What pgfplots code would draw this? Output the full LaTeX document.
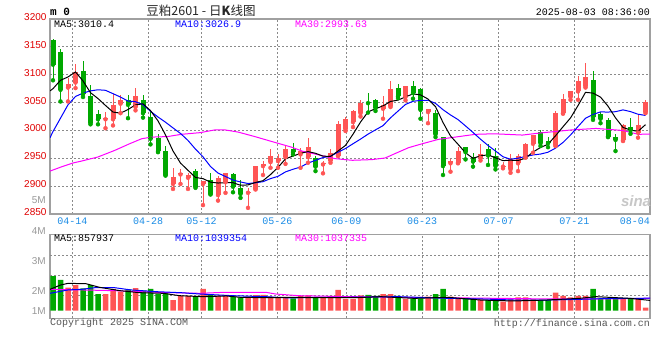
\documentclass[border=0pt]{standalone}
\usepackage{pgfplots}
\pgfplotsset{compat=1.18}
\usepackage{pgfplotstable}
\usepackage{fontspec}
\setmainfont{Liberation Sans}
\newfontfamily\mono{Liberation Mono}
\newfontfamily\cjk{Noto Sans CJK SC}
\definecolor{cR}{HTML}{FF5555}
\definecolor{cG}{HTML}{00A800}
\definecolor{frameC}{HTML}{A0A0A0}
\definecolor{gridC}{HTML}{8A8A8A}
\definecolor{tickR}{HTML}{E00000}
\definecolor{dateB}{HTML}{1A8CE6}
\definecolor{volL}{HTML}{999999}
\definecolor{maB}{HTML}{0000FF}
\definecolor{maM}{HTML}{FF00FF}
\definecolor{footC}{HTML}{555555}

% red (rising) candles: index, open, high, low, close, volume (M)
\pgfplotstableread{
i o h l c v
2 3077 3094 3052 3083 1.92
3 3086 3120 3076 3105 2.14
7 3020 3033 3004 3022 1.39
8 3020 3065 3009 3046 1.81
9 3048 3064 3031 3055 1.58
11 3042 3077 3036 3061 1.89
16 2904 2933 2895 2917 0.89
17 2921 2930 2904 2923 1.23
18 2915 2924 2895 2920 1.23
20 2904 2910 2866 2909 1.81
22 2884 2918 2874 2914 1.23
23 2907 2924 2888 2923 1.23
26 2888 2896 2861 2890 1.18
27 2895 2937 2894 2936 1.29
28 2936 2945 2920 2939 1.31
29 2943 2966 2933 2954 1.18
30 2945 2958 2933 2950 1.14
31 2952 2974 2940 2966 1.12
33 2957 2968 2933 2963 1.23
34 2952 2986 2942 2970 1.27
36 2939 2946 2923 2941 1.08
37 2946 2967 2942 2959 1.23
38 2955 3017 2954 3011 1.73
39 3002 3025 2999 3021 0.98
40 3015 3037 3006 3035 0.98
41 3031 3055 3025 3049 1.28
44 3039 3061 3021 3046 1.39
45 3044 3088 3042 3075 1.39
47 3060 3080 3054 3079 0.98
50 3033 3039 3013 3038 1.17
53 2941 2948 2926 2946 1.17
54 2942 2970 2941 2963 1.03
57 2951 2976 2946 2958 0.95
60 2935 2944 2932 2937 0.75
61 2930 2958 2924 2948 0.95
62 2941 2958 2927 2955 1.12
63 2952 2977 2951 2976 1.12
64 2976 2992 2960 2991 0.95
67 2973 3035 2972 3031 1.50
68 3031 3066 3030 3057 1.23
69 3060 3071 3055 3070 1.12
70 3070 3098 3055 3088 1.23
71 3079 3121 3077 3096 1.23
76 2982 3011 2981 3010 1.03
78 2996 3027 2987 3010 1.03
79 3033 3055 3031 3051 0.25
}\redtab

% green (falling) candles
\pgfplotstableread{
i o h l c v
0 3162 3164 3090 3118 2.89
1 3141 3147 3052 3073 2.56
4 3107 3125 3060 3065 1.87
5 3061 3082 3011 3013 2.14
6 3029 3037 3011 3020 1.39
10 3054 3064 3022 3046 1.78
12 3055 3063 3023 3031 1.67
13 3025 3035 2975 2985 1.81
14 2986 2993 2961 2963 1.39
15 2963 2972 2919 2920 1.45
19 2927 2930 2897 2899 1.14
21 2911 2924 2885 2886 1.39
24 2921 2923 2889 2899 1.18
25 2897 2911 2879 2886 1.12
32 2966 2978 2957 2961 1.02
35 2950 2954 2927 2935 1.12
42 3051 3067 3032 3049 1.31
43 3055 3057 3035 3040 1.23
46 3077 3083 3058 3061 1.23
48 3079 3088 3057 3067 1.03
49 3075 3076 3021 3037 1.03
51 3032 3036 2988 2993 1.39
52 2988 2989 2920 2936 1.81
55 2970 2970 2948 2961 1.03
56 2952 2960 2935 2944 1.03
58 2967 2976 2938 2955 0.89
59 2955 2969 2930 2936 0.89
65 2997 3000 2972 2977 0.89
66 2981 2989 2970 2977 0.89
72 3091 3107 3019 3024 1.81
73 3030 3033 3013 3021 1.03
74 3019 3023 2988 2989 1.03
75 2989 2993 2963 2983 1.03
77 3007 3022 2994 3000 1.03
}\greentab

\pgfplotsset{
  sinabase/.style={
    scale only axis, width=600pt, xmin=-0.4, xmax=79.6,
    axis line style={draw=frameC, line width=1.2pt},
    major tick length=0pt,
    xtick={2.6,12.7,19.8,29.9,39.1,49.2,59.4,69.5},
    xmajorgrids,
    x grid style={draw=gridC, line width=1pt, dash pattern=on 2pt off 2pt},
  },
  hgrid/.style={draw=gridC, line width=1pt, dash pattern=on 2pt off 2pt, mark=none, forget plot},
}

\begin{document}
\begin{tikzpicture}
\path[use as bounding box, fill=white] (0pt,0pt) rectangle (660pt,360pt);

% ---------------- price panel ----------------
\begin{axis}[sinabase,
  at={(50pt,146pt)}, anchor=south west, height=195pt,
  ymin=2850, ymax=3200,
  ytick={2850,2900,2950,3000,3050,3100,3150,3200},
  yticklabels={2850,2900,2950,3000,3050,3100,3150,3200},
  yticklabel style={font=\fontsize{10}{12}\selectfont, text=tickR, yshift=2pt},
  xticklabels={04-14,04-28,05-12,05-26,06-09,06-23,07-07,07-21},
  xticklabel style={font=\mono\fontsize{10}{12}\selectfont, text=dateB},
]
% horizontal dotted grid
\addplot[hgrid] coordinates {(-0.4,2900) (79.6,2900)};
\addplot[hgrid] coordinates {(-0.4,2950) (79.6,2950)};
\addplot[hgrid] coordinates {(-0.4,3000) (79.6,3000)};
\addplot[hgrid] coordinates {(-0.4,3050) (79.6,3050)};
\addplot[hgrid] coordinates {(-0.4,3100) (79.6,3100)};
\addplot[hgrid] coordinates {(-0.4,3150) (79.6,3150)};
% wicks
\addplot[only marks, mark=none, color=cR, error bars/.cd, y dir=plus, y explicit, error mark=none,
  error bar style={line width=1pt, color=cR}]
  table[x=i, y=l, y error expr=\thisrow{h}-\thisrow{l}] {\redtab};
\addplot[only marks, mark=none, color=cG, error bars/.cd, y dir=plus, y explicit, error mark=none,
  error bar style={line width=1pt, color=cG}]
  table[x=i, y=l, y error expr=\thisrow{h}-\thisrow{l}] {\greentab};
% bodies
\addplot[only marks, mark=none, color=cR, error bars/.cd, y dir=plus, y explicit, error mark=none,
  error bar style={line width=5pt, color=cR}]
  table[x=i, y=o, y error expr=\thisrow{c}-\thisrow{o}] {\redtab};
\addplot[only marks, mark=none, color=cG, error bars/.cd, y dir=plus, y explicit, error mark=none,
  error bar style={line width=5pt, color=cG}]
  table[x=i, y=c, y error expr=\thisrow{o}-\thisrow{c}] {\greentab};

% MA30
\addplot[maM, line width=1pt, mark=none] coordinates {
(-0.4,2927) (1.1,2934.5) (2.7,2941.7) (3.8,2945) (6,2952.4) (8.2,2964) (10.2,2976)
(11.8,2985) (13.1,2988) (15.3,2989) (17.1,2993) (19.6,2996) (21.6,3001) (22.9,3001)
(24.7,2997) (26.9,2989) (29.2,2980) (31.8,2970) (33.2,2963) (35.8,2955) (37.6,2949.4)
(39.9,2946.4) (42.5,2947.6) (44.3,2950.6) (45.6,2958.4) (47.4,2969) (49.2,2976)
(51.4,2984) (53.6,2988) (56.3,2993) (58.8,2994) (62.6,2991.7) (64.8,2995.2) (69.2,3001)
(72.4,3003.6) (75.9,3000) (78.1,2993) (79.6,2993.6)};
% MA10
\addplot[maB, line width=1pt, mark=none] coordinates {
(-0.4,2987) (0,2998) (1,3022) (2,3046) (3,3061) (4,3067) (5,3071) (6,3073) (7,3072) (8,3066)
(9,3059.9) (10,3052.7) (11,3051.5) (12,3046.3) (13,3034.3) (14,3024.1) (15,3014.8)
(16,3004.5) (17,2994.6) (18,2982) (19,2966.4) (20,2952.7) (21,2935.2) (22,2923.5)
(23,2917.3) (24,2910.9) (25,2907.5) (26,2904.7) (27,2906.1) (28,2908) (29,2913.5)
(30,2917.6) (31,2925.6) (32,2930.3) (33,2934.3) (34,2941.4) (35,2946.3) (36,2951.4)
(37,2953.7) (38,2960.9) (39,2967.6) (40,2976.1) (41,2984.4) (42,2993.3) (43,3001)
(44,3008.6) (45,3022.6) (46,3034.7) (47,3046.7) (48,3052.3) (49,3053.9) (50,3054.2)
(51,3048.6) (52,3037.2) (53,3027.8) (54,3019.5) (55,3008.1) (56,2996.4) (57,2984.3)
(58,2973.1) (59,2963) (60,2952.8) (61,2948.3) (62,2950.2) (63,2953.2) (64,2956)
(65,2957.6) (66,2960.9) (67,2968.2) (68,2978.4) (69,2991.8) (70,3007) (71,3021.8)
(72,3028.7) (73,3033.2) (74,3033) (75,3033.6) (76,3036.9) (77,3033.8) (78,3029.1)
(79,3026.9)};
% MA5
\addplot[black, line width=1pt, mark=none] coordinates {
(-0.4,3071) (0,3075) (1,3090) (2,3096) (3,3105) (4,3088.8) (5,3067.8) (6,3057.2)
(7,3044.8) (8,3033) (9,3031) (10,3037.6) (11,3045.8) (12,3047.8) (13,3035.6) (14,3017.2)
(15,2992) (16,2963.2) (17,2941.4) (18,2928.4) (19,2915.6) (20,2913.4) (21,2907.2)
(22,2905.6) (23,2906.2) (24,2906.2) (25,2901.6) (26,2902.2) (27,2906.6) (28,2909.8)
(29,2920.8) (30,2933.6) (31,2949) (32,2954) (33,2958.8) (34,2962) (35,2959) (36,2953.8)
(37,2953.4) (38,2963) (39,2973.2) (40,2993.2) (41,3015) (42,3033.2) (43,3039) (44,3044)
(45,3052) (46,3054.4) (47,3060.2) (48,3065.6) (49,3063.8) (50,3056.4) (51,3042.8)
(52,3014.2) (53,2990) (54,2975.2) (55,2959.8) (56,2950) (57,2954.4) (58,2956.2)
(59,2950.8) (60,2945.8) (61,2946.6) (62,2946) (63,2950.2) (64,2961.2) (65,2969.4)
(66,2975.2) (67,2990.4) (68,3006.6) (69,3022.4) (70,3044.6) (71,3068.4) (72,3067)
(73,3059.8) (74,3043.6) (75,3022.6) (76,3005.4) (77,3000.6) (78,2998.4) (79,3010.4)};
\end{axis}

% ---------------- volume panel ----------------
\begin{axis}[sinabase,
  at={(50pt,41.7pt)}, anchor=south west, height=83.6pt,
  ymin=-0.633, ymax=6.333,
  ytick=\empty,
  xticklabels={},
]
\addplot[hgrid] coordinates {(-0.4,1.308) (79.6,1.308)};
\addplot[hgrid] coordinates {(-0.4,2.975) (79.6,2.975)};
\addplot[hgrid] coordinates {(-0.4,4.642) (79.6,4.642)};
\addplot[ybar, bar width=5.5pt, bar shift=0pt, fill=cR, draw=none] table[x=i, y=v] {\redtab};
\addplot[ybar, bar width=5.5pt, bar shift=0pt, fill=cG, draw=none] table[x=i, y=v] {\greentab};
% MA30 of volume
\addplot[maM, line width=1pt, mark=none] coordinates {
(-0.4,1.78) (3.8,1.73) (8.2,1.67) (14,1.53) (19.6,1.45) (22.7,1.53) (28.4,1.53) (29.7,1.39)
(32.8,1.25) (39.5,1.17) (52.7,1.08) (59.4,1.03) (65.9,0.98) (74.7,0.98) (79.6,1.04)};
% MA10 of volume
\addplot[maB, line width=1pt, mark=none] coordinates {
(-0.4,1.45) (2,1.73) (3.8,1.78) (5.6,1.92) (8.2,1.92) (10.4,1.73) (14,1.58) (17.1,1.50)
(19.6,1.39) (24,1.25) (28.4,1.17) (31.5,1.06) (35,1.12) (39.5,1.12) (46,1.17) (52.7,1.03)
(57.1,0.98) (61.5,0.89) (65.9,0.89) (70.3,0.95) (74.7,1.03) (79.6,1.04)};
% MA5 of volume
\addplot[black, line width=1pt, mark=none] coordinates {
(-0.4,1.78) (1,2.14) (2,2.28) (4.4,2.25) (6.2,1.95) (8.9,1.67) (11.6,1.50) (14.7,1.45)
(16.9,1.25) (20,1.17) (23.1,1.23) (24.9,1.12) (28.4,1.08) (32,1.12) (35.6,1.08) (40,1.08)
(43.7,1.17) (48.2,1.03) (52.6,1.12) (57,0.89) (61.4,0.81) (65.8,0.89) (70.2,1.03)
(72.4,1.17) (76.9,1.03) (79.6,0.86)};
\end{axis}

% ---------------- texts ----------------
\node[anchor=west, inner sep=0pt, font=\mono\bfseries\fontsize{11}{12}\selectfont] at (50pt,348pt) {m 0};
\node[inner sep=0pt, font=\cjk\fontsize{12.5}{13}\selectfont, text=black!85] at (201pt,349pt) {豆粕2601 - 日\textbf{K}线图};
\node[anchor=east, inner sep=0pt, font=\mono\fontsize{10}{12}\selectfont] at (650pt,348pt) {2025-08-03 08:36:00};

\node[anchor=west, inner sep=0pt, font=\mono\fontsize{10}{12}\selectfont] at (54pt,336pt) {MA5:3010.4};
\node[anchor=west, inner sep=0pt, font=\mono\fontsize{10}{12}\selectfont, text=maB] at (175pt,336pt) {MA10:3026.9};
\node[anchor=west, inner sep=0pt, font=\mono\fontsize{10}{12}\selectfont, text=maM] at (295pt,336pt) {MA30:2993.63};

\node[anchor=east, inner sep=0pt, font=\mono\fontsize{10}{12}\selectfont, text=dateB] at (650pt,139pt) {08-04};

\node[anchor=west, inner sep=0pt, font=\mono\fontsize{10}{12}\selectfont] at (54pt,121.5pt) {MA5:857937};
\node[anchor=west, inner sep=0pt, font=\mono\fontsize{10}{12}\selectfont, text=maB] at (175pt,121.5pt) {MA10:1039354};
\node[anchor=west, inner sep=0pt, font=\mono\fontsize{10}{12}\selectfont, text=maM] at (295pt,121.5pt) {MA30:1037335};

\foreach \lab/\yy in {5M/160,4M/129,3M/99,2M/69,1M/49}{
  \node[anchor=east, inner sep=0pt, font=\fontsize{10}{12}\selectfont, text=volL] at (46pt,\yy pt) {\lab};
}

\node[anchor=west, inner sep=0pt, font=\mono\fontsize{10}{12}\selectfont, text=footC] at (50pt,37pt) {Copyright 2025 SINA.COM};
\node[anchor=east, inner sep=0pt, font=\mono\fontsize{10}{12}\selectfont, text=footC] at (650pt,36pt) {http://finance.sina.com.cn};

\node[inner sep=0pt, font=\bfseries\itshape\fontsize{15}{15}\selectfont, text=black!22] at (636pt,159pt) {sina};
\end{tikzpicture}
\end{document}
